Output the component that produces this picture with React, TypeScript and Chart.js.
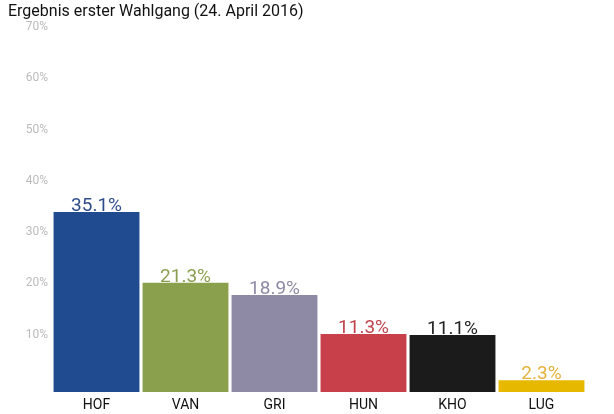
import {useEffect, useRef} from 'react';
import {Chart, registerables} from 'chart.js';

Chart.register(...registerables);

const candidates = ['HOF', 'VAN', 'GRI', 'HUN', 'KHO', 'LUG'];
const results = [35.1, 21.3, 18.9, 11.3, 11.1, 2.3];
const barColors = ['#214b91', '#8aa04c', '#8e8aa6', '#c8414a', '#1b1b1b', '#e6b800'];
const labelColors = ['#2e4c8c', '#8a9e4f', '#8e8aa6', '#c0444c', '#222222', '#e3b23c'];

const valueLabels = {
    id: 'valueLabels',
    afterDatasetsDraw(chart: Chart) {
        const ctx = chart.ctx;
        const meta = chart.getDatasetMeta(0);
        ctx.save();
        ctx.font = '19px Roboto';
        ctx.textAlign = 'center';
        ctx.textBaseline = 'alphabetic';
        meta.data.forEach((bar: any, i: number) => {
            ctx.fillStyle = labelColors[i];
            ctx.fillText(results[i].toFixed(1) + '%', bar.x, bar.y - 1);
        });
        ctx.restore();
    }
};

const App = () => {
    const canvasRef = useRef<HTMLCanvasElement | null>(null);
    const chartRef = useRef<Chart | null>(null);

    useEffect(() => {
        document.body.style.margin = '0';
        const ctx = canvasRef.current?.getContext('2d');
        if (!ctx) return;

        chartRef.current = new Chart(ctx, {
            type: 'bar',
            data: {
                labels: candidates,
                datasets: [{
                    data: results,
                    backgroundColor: barColors,
                    barPercentage: 0.965,
                    categoryPercentage: 1,
                }],
            },
            options: {
                animation: false,
                responsive: false,
                layout: {padding: {left: 8, right: 28, top: 0, bottom: 0}},
                plugins: {
                    legend: {display: false},
                    tooltip: {enabled: false},
                    title: {
                        display: true,
                        text: 'Ergebnis erster Wahlgang (24. April 2016)',
                        align: 'start',
                        color: '#111',
                        font: {family: 'Roboto', size: 16, weight: 'normal'},
                        padding: {top: 2, bottom: 12},
                    },
                },
                scales: {
                    x: {
                        grid: {display: false, drawTicks: false},
                        border: {display: false},
                        ticks: {
                            color: '#111',
                            font: {family: 'Roboto', size: 14},
                            padding: 5,
                        },
                        afterFit(scale: any) { scale.height = 22; },
                    },
                    y: {
                        min: 0,
                        max: 70,
                        grid: {display: false, drawTicks: false},
                        border: {display: false},
                        ticks: {
                            stepSize: 10,
                            color: '#bbbbbb',
                            font: {family: 'Roboto', size: 12},
                            padding: 4,
                            labelOffset: -6,
                            callback: (v: any) => (v === 0 ? '' : v + '%'),
                        },
                        afterFit(scale: any) { scale.width = 44; },
                    },
                },
            },
            plugins: [valueLabels],
        });
        return () => chartRef.current?.destroy();
    }, []);

    return (
        <div style={{width: 614, height: 414, background: '#fff'}}>
            <canvas ref={canvasRef} width={614} height={414} />
        </div>
    );
};

export default App;
